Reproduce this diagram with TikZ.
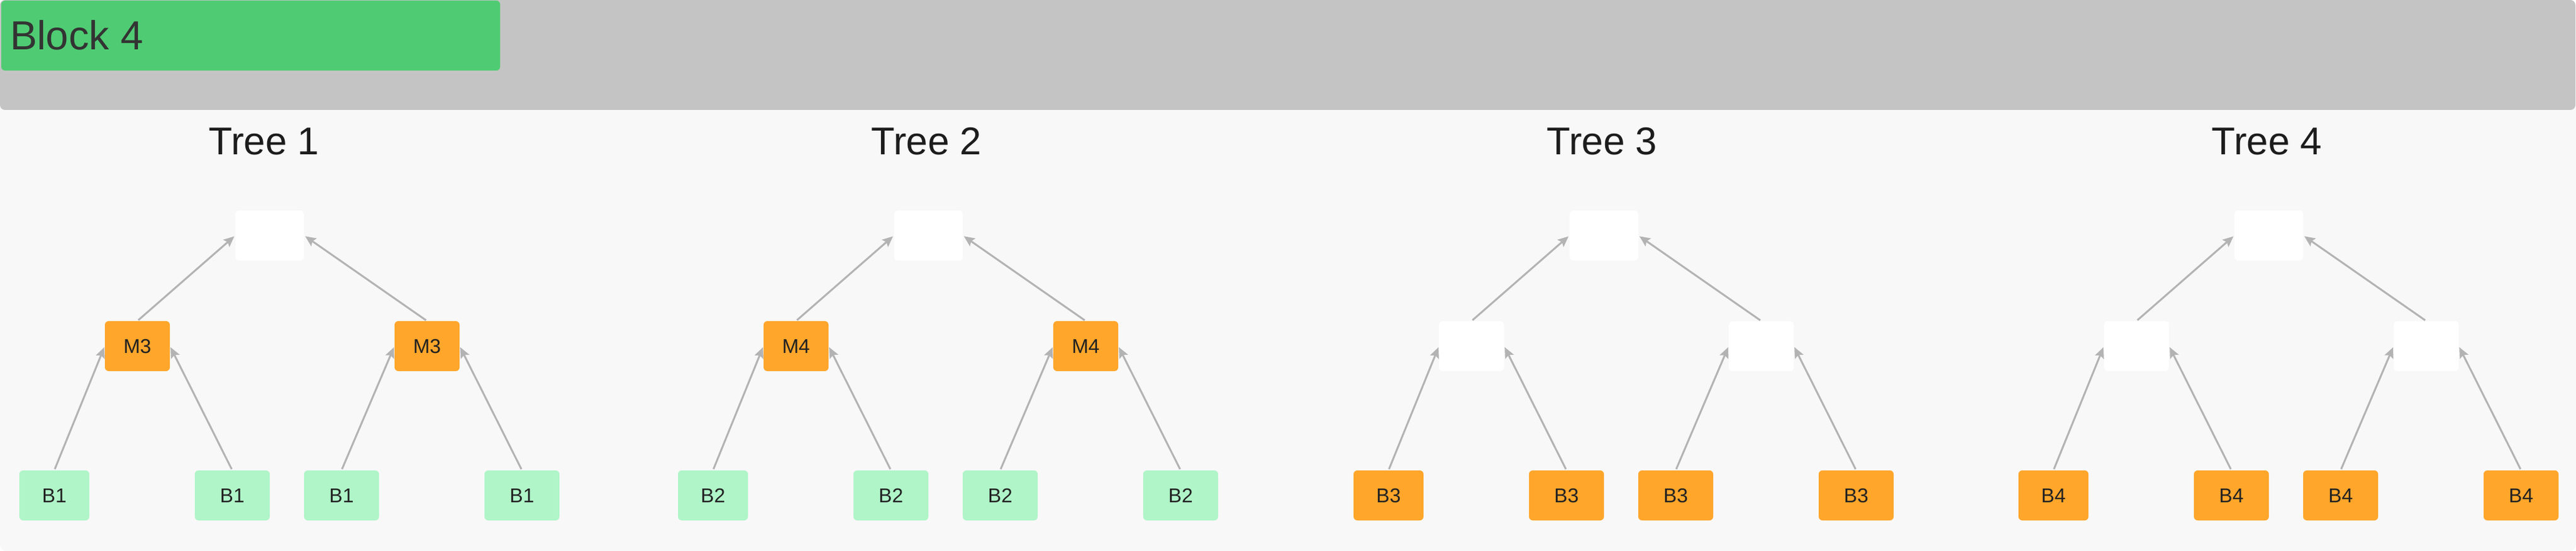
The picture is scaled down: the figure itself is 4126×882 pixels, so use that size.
\documentclass[tikz,border=0pt]{standalone}
\usepackage{fontspec}
\setmainfont{Liberation Sans}
\usetikzlibrary{arrows.meta}
\definecolor{hdrgreen}{HTML}{4FCC73}
\definecolor{band}{HTML}{C4C4C4}
\definecolor{panel}{HTML}{F8F8F8}
\definecolor{leafgreen}{HTML}{AFF5C8}
\definecolor{orangebox}{HTML}{FFA62B}
\definecolor{edgegray}{HTML}{B3B3B3}
\definecolor{txt}{HTML}{222222}
\definecolor{hdrtxt}{HTML}{333333}
\definecolor{titletxt}{HTML}{1C1C1C}
\begin{document}
\begin{tikzpicture}[x=1pt,y=-1pt,
  box/.style={rounded corners=6pt, inner sep=0pt, minimum height=80pt,
    font=\fontsize{32}{32}\selectfont, text=txt},
  rootbox/.style={box, fill=white, minimum width=110pt},
  midbox/.style={box, minimum width=104pt},
  leafbox/.style={box, minimum width=120pt},
  firstleaf/.style={box, minimum width=112pt},
  treetitle/.style={anchor=base, inner sep=0pt, font=\fontsize{62}{62}\selectfont, text=titletxt},
  edge/.style={draw=edgegray, line width=3pt,
    -{Stealth[length=17pt,width=15pt,inset=3pt]}, shorten >=2pt, shorten <=2pt}
]
\useasboundingbox (0,0) rectangle (4126,882);
\fill[white] (0,0) rectangle (4126,882);
\fill[panel, rounded corners=10pt] (0,0) rectangle (4126,882);
\fill[band, rounded corners=8pt] (0,0) rectangle (4125,176);
\fill[hdrgreen, rounded corners=6pt] (2,1) rectangle (801,113);
\node[anchor=base west, inner sep=0pt, font=\fontsize{65}{65}\selectfont, text=hdrtxt] (hdr) at (16,80) {Block 4};

\foreach \i/\r/\tx/\midfill/\midtxt/\leaffill/\leaftxt in {%
  1/377/423/orangebox/M3/leafgreen/B1,
  2/1432/1484/orangebox/M4/leafgreen/B2,
  3/2514/2566/white/{}/orangebox/B3,
  4/3579/3631/white/{}/orangebox/B4}{
  \node[treetitle] (title\i) at (\tx,248) {Tree \i};
  \node[rootbox] (root\i) at (\r+55,377) {};
  \node[midbox, fill=\midfill] (ml\i) at (\r-157,554) {\midtxt};
  \node[midbox, fill=\midfill] (mr\i) at (\r+307,554) {\midtxt};
  \node[firstleaf, fill=\leaffill] (la\i) at (\r-290,793) {\leaftxt};
  \node[leafbox, fill=\leaffill] (lb\i) at (\r-5,793) {\leaftxt};
  \node[leafbox, fill=\leaffill] (lc\i) at (\r+170,793) {\leaftxt};
  \node[leafbox, fill=\leaffill] (ld\i) at (\r+459,793) {\leaftxt};
  \draw[edge] (ml\i.north) -- (root\i.west);
  \draw[edge] (mr\i.north) -- (root\i.east);
  \draw[edge] (la\i.north) -- (ml\i.west);
  \draw[edge] (lb\i.north) -- (ml\i.east);
  \draw[edge] (lc\i.north) -- (mr\i.west);
  \draw[edge] (ld\i.north) -- (mr\i.east);
}
\end{tikzpicture}
\end{document}
